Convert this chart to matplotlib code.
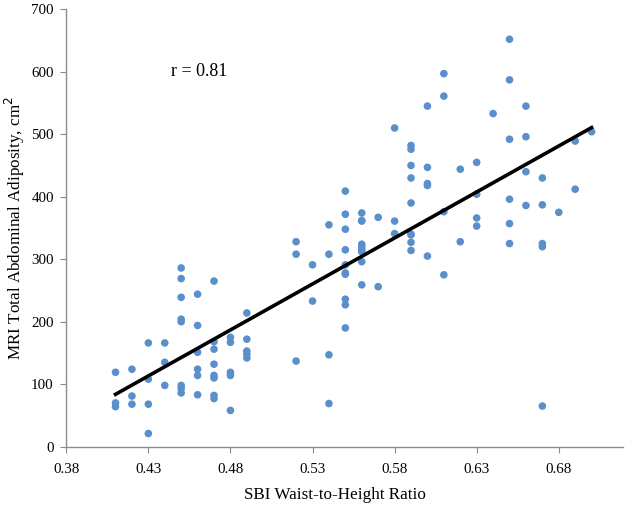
import numpy as np
import matplotlib
matplotlib.use("Agg")
import matplotlib.pyplot as plt

# waist-to-height ratio and MRI adiposity
ratio = [0.41, 0.41, 0.41,
         0.42, 0.42, 0.42,
         0.43, 0.43, 0.43, 0.43,
         0.44, 0.44, 0.44,
         0.45, 0.45, 0.45, 0.45, 0.45, 0.45, 0.45, 0.45,
         0.46, 0.46, 0.46, 0.46, 0.46, 0.46,
         0.47, 0.47, 0.47, 0.47, 0.47, 0.47, 0.47, 0.47,
         0.48, 0.48, 0.48, 0.48, 0.48,
         0.49, 0.49, 0.49, 0.49, 0.49,
         0.52, 0.52, 0.52,
         0.53, 0.53,
         0.54, 0.54, 0.54, 0.54,
         0.55, 0.55, 0.55, 0.55, 0.55, 0.55, 0.55, 0.55, 0.55, 0.55,
         0.56, 0.56, 0.56, 0.56, 0.56, 0.56, 0.56, 0.56, 0.56,
         0.57, 0.57,
         0.58, 0.58, 0.58,
         0.59, 0.59, 0.59, 0.59, 0.59, 0.59, 0.59, 0.59, 0.59,
         0.60, 0.60, 0.60, 0.60, 0.60,
         0.61, 0.61, 0.61, 0.61,
         0.62, 0.62,
         0.63, 0.63, 0.63, 0.63,
         0.64,
         0.65, 0.65, 0.65, 0.65, 0.65, 0.65,
         0.66, 0.66, 0.66, 0.66,
         0.67, 0.67, 0.67, 0.67, 0.67,
         0.68,
         0.69, 0.69,
         0.70]
adiposity = [119, 70, 64,
             124, 81, 68,
             166, 108, 68, 21,
             166, 135, 98,
             286, 269, 239, 204, 200, 98, 93, 86,
             244, 194, 151, 124, 114, 83,
             265, 168, 156, 132, 114, 110, 82, 77,
             175, 167, 119, 114, 58,
             214, 172, 153, 148, 142,
             328, 308, 137,
             291, 233,
             355, 308, 147, 69,
             409, 372, 348, 315, 291, 278, 236, 227, 190, 276,
             374, 361, 324, 320, 315, 312, 296, 259, 362,
             367, 256,
             510, 361, 341,
             482, 476, 450, 430, 390, 339, 327, 314, 340,
             545, 447, 421, 418, 305,
             597, 561, 376, 275,
             444, 328,
             455, 404, 366, 353,
             533,
             652, 587, 492, 396, 357, 325,
             545, 496, 440, 386,
             430, 387, 325, 320, 65,
             375,
             489, 412,
             504]

x = np.array(ratio)
y = np.array(adiposity)
slope, intercept = np.polyfit(x, y, 1)
xfit = np.array([x.min(), x.max()])

plt.rcParams['font.family'] = ['Liberation Serif', 'DejaVu Serif']

fig = plt.figure(figsize=(6.31, 5.14), dpi=100)
ax = fig.add_axes([0.105, 0.131, 0.882, 0.851])

ax.scatter(x, y, s=30, color='#5b8fcc', edgecolors='none', zorder=2)
ax.plot(xfit, slope * xfit + intercept, color='black', lw=2.6, zorder=3)

ax.set_xlim(0.38, 0.719)
ax.set_ylim(0, 700)
xt = np.arange(0.38, 0.70, 0.05)
ax.set_xticks(xt)
ax.set_xticklabels(['%.2f' % t for t in xt])
ax.set_yticks(range(0, 701, 100))

for s in ['top', 'right']:
    ax.spines[s].set_visible(False)
for s in ['left', 'bottom']:
    ax.spines[s].set_color('#8c8c8c')
    ax.spines[s].set_linewidth(1.0)
ax.tick_params(colors='#8c8c8c', labelcolor='black', length=4, labelsize=10.8)
ax.tick_params(axis='x', pad=7.5)
ax.tick_params(axis='y', pad=5)

ax.set_xlabel('SBI Waist-to-Height Ratio', fontsize=12.3)
ax.set_ylabel('MRI Total Abdominal Adiposity, cm$^2$', fontsize=12.3)
ax.xaxis.set_label_coords(0.482, -0.092)
ax.yaxis.set_label_coords(-0.071, 0.5)
ax.text(0.461, 600, 'r = 0.81', fontsize=13, ha='center', va='center')

fig.savefig('out.png', dpi=100)
